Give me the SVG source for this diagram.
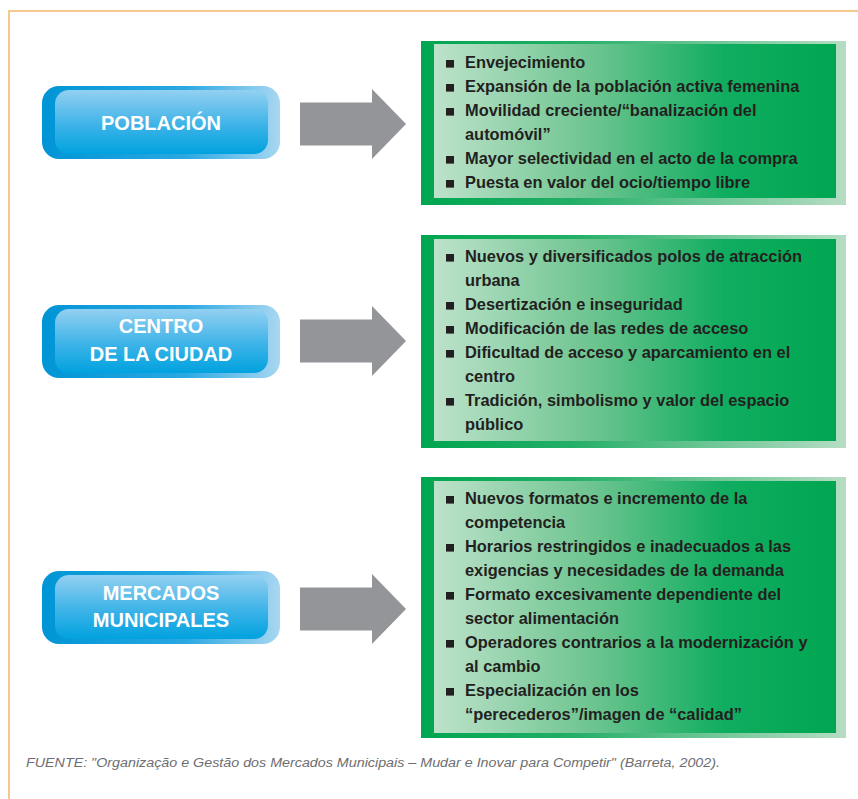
<svg xmlns="http://www.w3.org/2000/svg" xmlns:xlink="http://www.w3.org/1999/xlink" width="858" height="799" viewBox="0 0 858 799">
  <defs>
    <linearGradient id="pillOuter" x1="0" y1="0" x2="1" y2="0">
      <stop offset="0" stop-color="#0095d6"/>
      <stop offset="0.6" stop-color="#2aa8e2"/>
      <stop offset="1" stop-color="#a8d7f2"/>
    </linearGradient>
    <linearGradient id="pillInner" x1="0" y1="0" x2="0" y2="1">
      <stop offset="0" stop-color="#93d0f1"/>
      <stop offset="0.55" stop-color="#3db3e8"/>
      <stop offset="1" stop-color="#00a2df"/>
    </linearGradient>
    <linearGradient id="boxOuter" x1="0" y1="0" x2="1" y2="0">
      <stop offset="0" stop-color="#00a651"/>
      <stop offset="0.35" stop-color="#22ae66"/>
      <stop offset="1" stop-color="#b6ddc3"/>
    </linearGradient>
    <linearGradient id="boxInner" x1="0" y1="0" x2="1" y2="0">
      <stop offset="0" stop-color="#bde2ca"/>
      <stop offset="0.4" stop-color="#6cc48f"/>
      <stop offset="0.72" stop-color="#10ad60"/>
      <stop offset="1" stop-color="#00a651"/>
    </linearGradient>
    <path id="arrow" d="M300,-21.5 H372 V-35 L406,0 L372,35 V21.5 H300 Z"/>
    <rect id="bul" x="446" y="-8" width="8" height="7.6"/>
  </defs>
  <style>
    .frame { stroke: #f4c98c; stroke-width: 2; fill: none; }
    .arrow { fill: #939598; }
    .pillText { font-family: "Liberation Sans", Arial, sans-serif; font-weight: bold; font-size: 20px; fill: #ffffff; text-anchor: middle; }
    .item { font-family: "Liberation Sans", Arial, sans-serif; font-weight: bold; font-size: 16.4px; fill: #231f20; }
    .bullet { fill: #231f20; }
    .src { font-family: "Liberation Sans", Arial, sans-serif; font-style: italic; font-size: 12.5px; fill: #6d6e71; }
  </style>

  <rect width="858" height="799" fill="#ffffff"/>
  <path class="frame" d="M9,799 V11 H858"/>

  <g id="connectors">
    <use xlink:href="#arrow" href="#arrow" class="arrow" transform="translate(0,124)"/>
    <use xlink:href="#arrow" href="#arrow" class="arrow" transform="translate(0,341)"/>
    <use xlink:href="#arrow" href="#arrow" class="arrow" transform="translate(0,609)"/>
  </g>

  <g id="poblacion">
    <rect x="42" y="86" width="238" height="73" rx="17" fill="url(#pillOuter)"/>
    <rect x="55" y="90" width="213" height="64" rx="14" fill="url(#pillInner)"/>
    <text class="pillText" x="161" y="130">POBLACIÓN</text>
  </g>

  <g id="centro">
    <rect x="42" y="305" width="238" height="73" rx="17" fill="url(#pillOuter)"/>
    <rect x="55" y="309" width="213" height="64" rx="14" fill="url(#pillInner)"/>
    <text class="pillText" x="161" y="333">CENTRO</text>
    <text class="pillText" x="161" y="361">DE LA CIUDAD</text>
  </g>

  <g id="mercados">
    <rect x="42" y="571" width="238" height="73" rx="17" fill="url(#pillOuter)"/>
    <rect x="55" y="575" width="213" height="64" rx="14" fill="url(#pillInner)"/>
    <text class="pillText" x="161" y="600">MERCADOS</text>
    <text class="pillText" x="161" y="627">MUNICIPALES</text>
  </g>

  <g id="poblacion-factores">
    <rect x="421" y="41" width="425" height="164" fill="url(#boxOuter)"/>
    <rect x="434" y="44" width="402" height="154" fill="url(#boxInner)"/>
    <g class="bullet">
      <use xlink:href="#bul" href="#bul" y="68"/>
      <use xlink:href="#bul" href="#bul" y="92"/>
      <use xlink:href="#bul" href="#bul" y="116"/>
      <use xlink:href="#bul" href="#bul" y="164"/>
      <use xlink:href="#bul" href="#bul" y="188"/>
    </g>
    <text class="item" x="465" y="68">Envejecimiento</text>
    <text class="item" x="465" y="92">Expansión de la población activa femenina</text>
    <text class="item" x="465" y="116">Movilidad creciente/“banalización del</text>
    <text class="item" x="465" y="140">automóvil”</text>
    <text class="item" x="465" y="164">Mayor selectividad en el acto de la compra</text>
    <text class="item" x="465" y="188">Puesta en valor del ocio/tiempo libre</text>
  </g>

  <g id="centro-factores">
    <rect x="421" y="235" width="425" height="213" fill="url(#boxOuter)"/>
    <rect x="434" y="239" width="402" height="202" fill="url(#boxInner)"/>
    <g class="bullet">
      <use xlink:href="#bul" href="#bul" y="262"/>
      <use xlink:href="#bul" href="#bul" y="310"/>
      <use xlink:href="#bul" href="#bul" y="334"/>
      <use xlink:href="#bul" href="#bul" y="358"/>
      <use xlink:href="#bul" href="#bul" y="406"/>
    </g>
    <text class="item" x="465" y="262">Nuevos y diversificados polos de atracción</text>
    <text class="item" x="465" y="286">urbana</text>
    <text class="item" x="465" y="310">Desertización e inseguridad</text>
    <text class="item" x="465" y="334">Modificación de las redes de acceso</text>
    <text class="item" x="465" y="358">Dificultad de acceso y aparcamiento en el</text>
    <text class="item" x="465" y="382">centro</text>
    <text class="item" x="465" y="406">Tradición, simbolismo y valor del espacio</text>
    <text class="item" x="465" y="430">público</text>
  </g>

  <g id="mercados-factores">
    <rect x="421" y="477" width="425" height="261" fill="url(#boxOuter)"/>
    <rect x="434" y="481" width="402" height="252" fill="url(#boxInner)"/>
    <g class="bullet">
      <use xlink:href="#bul" href="#bul" y="504"/>
      <use xlink:href="#bul" href="#bul" y="552"/>
      <use xlink:href="#bul" href="#bul" y="600"/>
      <use xlink:href="#bul" href="#bul" y="648"/>
      <use xlink:href="#bul" href="#bul" y="696"/>
    </g>
    <text class="item" x="465" y="504">Nuevos formatos e incremento de la</text>
    <text class="item" x="465" y="528">competencia</text>
    <text class="item" x="465" y="552">Horarios restringidos e inadecuados a las</text>
    <text class="item" x="465" y="576">exigencias y necesidades de la demanda</text>
    <text class="item" x="465" y="600">Formato excesivamente dependiente del</text>
    <text class="item" x="465" y="624">sector alimentación</text>
    <text class="item" x="465" y="648">Operadores contrarios a la modernización y</text>
    <text class="item" x="465" y="672">al cambio</text>
    <text class="item" x="465" y="696">Especialización en los</text>
    <text class="item" x="465" y="720">“perecederos”/imagen de “calidad”</text>
  </g>

  <text class="src" x="26" y="767" textLength="694" lengthAdjust="spacingAndGlyphs">FUENTE: "Organização e Gestão dos Mercados Municipais – Mudar e Inovar para Competir" (Barreta, 2002).</text>
</svg>
